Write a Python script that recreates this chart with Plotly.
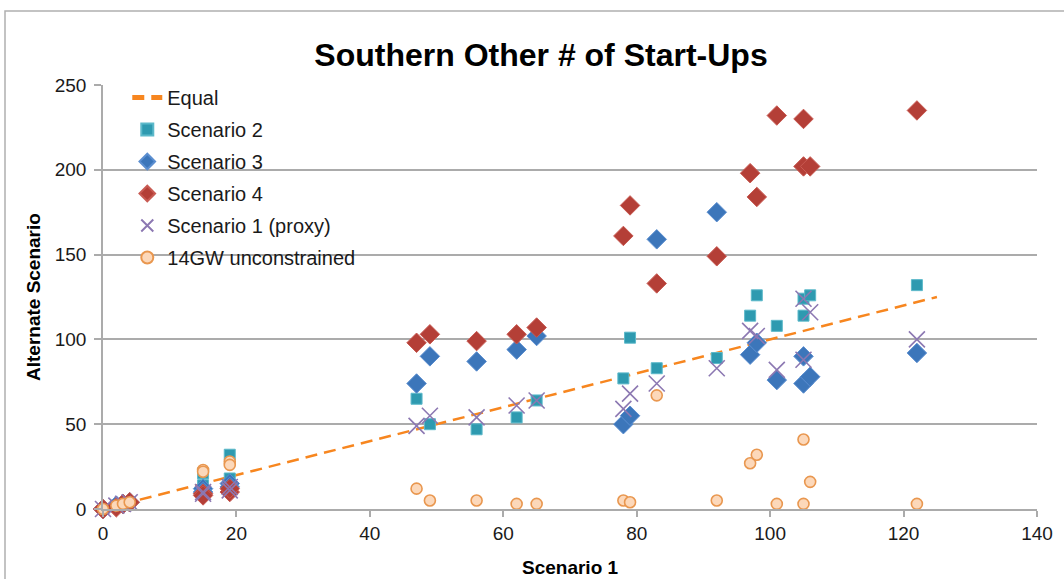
import plotly.graph_objects as go

# ---------------- data ----------------
scenario1 = [0, 2, 3, 4, 15, 15, 19, 19, 47, 49, 56, 62, 65, 78, 79, 83, 92, 97, 98, 101, 105, 105, 106, 122]
scenario2 = [0, 2, 3, 4, 21, 14, 32, 18, 65, 50, 47, 54, 64, 77, 101, 83, 89, 114, 126, 108, 124, 114, 126, 132]
scenario3 = [0, 2, 3, 4, 12, 10, 15, 13, 74, 90, 87, 94, 102, 50, 55, 159, 175, 91, 98, 76, 90, 74, 78, 92]
scenario4 = [0, 1, 3, 4, 9, 8, 10, 12, 98, 103, 99, 103, 107, 161, 179, 133, 149, 198, 184, 232, 230, 202, 202, 235]
scenario1_proxy = [0, 2, 3, 4, 9, 10, 13, 11, 49, 55, 54, 61, 64, 59, 68, 74, 83, 105, 102, 82, 124, 88, 116, 100]
gw14_unconstrained = [0, 2, 3, 4, 23, 22, 28, 26, 12, 5, 5, 3, 3, 5, 4, 67, 5, 27, 32, 3, 41, 3, 16, 3]
equal_x = [0, 125]
equal_y = [0, 125]
x_ticks = [0, 20, 40, 60, 80, 100, 120, 140]
y_ticks = [0, 50, 100, 150, 200, 250]

title_text = "Southern Other # of Start-Ups"
x_title = "Scenario 1"
y_title = "Alternate Scenario"

FONT = "Liberation Sans, Arial, Helvetica, sans-serif"
GRID = "#ABABAB"

fig = go.Figure()

fig.add_trace(go.Scatter(
    x=equal_x, y=equal_y, mode="lines", name="Equal", legendgroup="g1",
    line=dict(color="#F7861F", width=2.5, dash="12px,7px"), cliponaxis=False))

fig.add_trace(go.Scatter(
    x=scenario1, y=scenario2, mode="markers", name="Scenario 2", legendgroup="g2",
    marker=dict(symbol="square", size=11, color="#2E9AB0",
                line=dict(color="#5CB9CA", width=1)), cliponaxis=False))

fig.add_trace(go.Scatter(
    x=scenario1, y=scenario3, mode="markers", name="Scenario 3", legendgroup="g3",
    marker=dict(symbol="diamond", size=15, color="#3C76BA",
                line=dict(color="#5B8ED0", width=1)), cliponaxis=False))

fig.add_trace(go.Scatter(
    x=scenario1, y=scenario4, mode="markers", name="Scenario 4", legendgroup="g4",
    marker=dict(symbol="diamond", size=15, color="#B43F37",
                line=dict(color="#C85A52", width=1)), cliponaxis=False))

fig.add_trace(go.Scatter(
    x=scenario1, y=scenario1_proxy, mode="markers", name="Scenario 1 (proxy)", legendgroup="g5",
    marker=dict(symbol="x-thin", size=16, color="#8C78B2",
                line=dict(color="#8C78B2", width=1.6)), cliponaxis=False))

fig.add_trace(go.Scatter(
    x=scenario1, y=gw14_unconstrained, mode="markers", name="14GW unconstrained", legendgroup="g6",
    marker=dict(symbol="circle", size=11, color="#FCD8BA",
                line=dict(color="#E9974F", width=1.6)), cliponaxis=False))

fig.update_layout(
    width=1064, height=579,
    margin=dict(l=103, r=27, t=85, b=70),
    paper_bgcolor="white", plot_bgcolor="white",
    font=dict(family=FONT, color="#1A1A1A", size=19),
    title=dict(text="<b>" + title_text + "</b>", x=541 / 1064, xref="container", xanchor="center",
               y=1 - 55 / 579, yref="container", yanchor="middle",
               font=dict(family=FONT, size=32, color="#000000")),
    showlegend=True,
    legend=dict(x=0.026, y=1.0165, xanchor="left", yanchor="top", bgcolor="rgba(0,0,0,0)",
                font=dict(family=FONT, size=20, color="#1A1A1A"),
                tracegroupgap=3, itemsizing="constant", traceorder="grouped"),
    xaxis=dict(range=[0, 140], tickvals=x_ticks, showgrid=False, zeroline=False,
               showline=True, linecolor=GRID, linewidth=1.5,
               ticks="outside", ticklen=6, tickcolor=GRID, tickwidth=1.5,
               tickfont=dict(family=FONT, size=19, color="#1A1A1A")),
    yaxis=dict(range=[0, 250], tickvals=y_ticks, showgrid=True, gridcolor=GRID, gridwidth=1.5,
               zeroline=False, showline=True, linecolor=GRID, linewidth=1.5,
               ticks="outside", ticklen=7, tickcolor=GRID, tickwidth=1.5,
               ticklabelstandoff=4,
               tickfont=dict(family=FONT, size=19, color="#1A1A1A")),
    annotations=[
        dict(text="<b>" + x_title + "</b>", xref="paper", yref="paper", x=0.5, y=(509 - 567) / 424,
             xanchor="center", yanchor="middle", showarrow=False,
             font=dict(family=FONT, size=19, color="#000000")),
        dict(text="<b>" + y_title + "</b>", xref="paper", yref="paper", x=(33 - 103) / 934, y=0.5,
             xanchor="center", yanchor="middle", showarrow=False, textangle=-90,
             font=dict(family=FONT, size=19, color="#000000")),
    ],
    shapes=[
        dict(type="rect", xref="paper", yref="paper",
             x0=(5 - 103) / 934, x1=1.08, y0=-0.25, y1=(509 - 11) / 424,
             line=dict(color="#B0B0B0", width=1.5), fillcolor="rgba(0,0,0,0)", layer="below"),
    ],
)

fig.write_html("out.html", config={"displayModeBar": False},
               post_script="document.body.style.margin='0';document.body.style.overflow='hidden';")
